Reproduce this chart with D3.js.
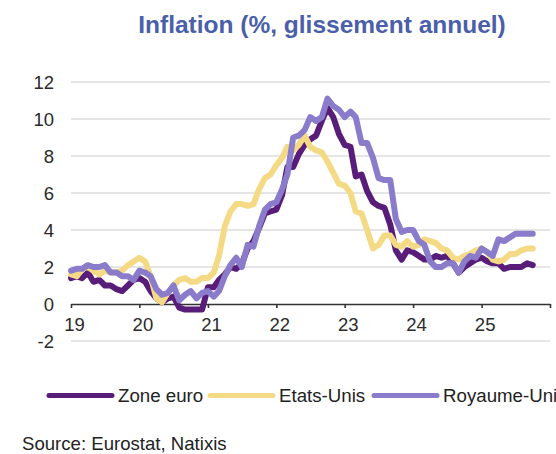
<!DOCTYPE html>
<html>
<head>
<meta charset="utf-8">
<script src="https://cdn.jsdelivr.net/npm/d3@7"></script>
<style>
  body { margin: 0; background: #fff; }
  svg { display: block; font-family: "Liberation Sans", Arial, sans-serif; }
</style>
</head>
<body>
<svg id="chart" width="556" height="454"></svg>
<script>
// Data: monthly y/y inflation, Jan 2019 -> Oct 2025
var startMonth = new Date(2019, 0, 1);
var zoneEuro = [
  1.4, 1.5, 1.4, 1.7, 1.2, 1.3, 1.0, 1.0, 0.8, 0.7, 1.0, 1.3,
  1.4, 1.2, 0.7, 0.3, 0.1, 0.3, 0.4, -0.2, -0.3, -0.3, -0.3, -0.3,
  0.9, 0.9, 1.3, 1.6, 2.0, 1.9, 2.2, 3.0, 3.4, 4.1, 4.9, 5.0,
  5.1, 5.9, 7.4, 7.4, 8.1, 8.6, 8.9, 9.1, 9.9, 10.6, 10.1, 9.2,
  8.6, 8.5, 6.9, 7.0, 6.1, 5.5, 5.3, 5.2, 4.3, 2.9, 2.4, 2.9,
  2.8, 2.6, 2.4, 2.4, 2.6, 2.5, 2.6, 2.2, 1.7, 2.0, 2.2, 2.4,
  2.5, 2.3, 2.2, 2.2, 1.9, 2.0, 2.0, 2.0, 2.2, 2.1
];
var etatsUnis = [
  1.6, 1.5, 1.9, 2.0, 1.8, 1.6, 1.8, 1.7, 1.7, 1.8, 2.1, 2.3,
  2.5, 2.3, 1.5, 0.3, 0.1, 0.6, 1.0, 1.3, 1.4, 1.2, 1.2, 1.4,
  1.4, 1.7, 2.6, 4.2, 5.0, 5.4, 5.4, 5.3, 5.4, 6.2, 6.8, 7.0,
  7.5, 7.9, 8.5, 8.3, 8.6, 9.1, 8.5, 8.3, 8.2, 7.7, 7.1, 6.5,
  6.4, 6.0, 5.0, 4.9, 4.0, 3.0, 3.2, 3.7, 3.7, 3.2, 3.1, 3.4,
  3.1, 3.2, 3.5, 3.4, 3.3, 3.0, 2.9, 2.5, 2.4, 2.6, 2.7, 2.9,
  3.0, 2.8, 2.4, 2.3, 2.4, 2.7, 2.7, 2.9, 3.0, 3.0
];
var royaumeUni = [
  1.8, 1.9, 1.9, 2.1, 2.0, 2.0, 2.1, 1.7, 1.7, 1.5, 1.5, 1.3,
  1.8, 1.7, 1.5, 0.8, 0.5, 0.6, 1.0, 0.2, 0.5, 0.7, 0.3, 0.6,
  0.7, 0.4, 0.7, 1.5, 2.1, 2.5, 2.0, 3.2, 3.1, 4.2, 5.1, 5.4,
  5.5, 6.2, 7.0, 9.0, 9.1, 9.4, 10.1, 9.9, 10.1, 11.1, 10.7, 10.5,
  10.1, 10.4, 10.1, 8.7, 8.7, 7.9, 6.8, 6.7, 6.7, 4.6, 3.9, 4.0,
  4.0, 3.4, 3.2, 2.3, 2.0, 2.0, 2.2, 2.2, 1.7, 2.3, 2.6, 2.5,
  3.0, 2.8, 2.6, 3.5, 3.4, 3.6, 3.8, 3.8, 3.8, 3.8
];
var seriesNames = ["Zone euro", "Etats-Unis", "Royaume-Uni"];
var seriesColors = ["#581d78", "#f5da86", "#8a7ccb"];
var yTicks = [-2, 0, 2, 4, 6, 8, 10, 12];
var yearTicks = [2019, 2020, 2021, 2022, 2023, 2024, 2025, 2026];

var svg = d3.select("#chart");
var months = d3.timeMonth.range(startMonth, d3.timeMonth.offset(startMonth, zoneEuro.length));

var x = d3.scaleTime()
  .domain([new Date(2019, 0, 1), new Date(2026, 0, 1)])
  .range([71, 550]);
var y = d3.scaleLinear()
  .domain([-2, 12])
  .range([341, 82]);

// Title
svg.append("text")
  .attr("x", 322).attr("y", 33)
  .attr("text-anchor", "middle")
  .attr("font-size", 24.5).attr("font-weight", "bold")
  .attr("fill", "#4a5faa")
  .text("Inflation (%, glissement annuel)");

// Gridlines
svg.append("g")
  .selectAll("line")
  .data(yTicks.filter(function(d) { return d != 0; }))
  .enter().append("line")
  .attr("x1", x.range()[0]).attr("x2", x.range()[1])
  .attr("y1", function(d) { return y(d); })
  .attr("y2", function(d) { return y(d); })
  .attr("stroke", "#dcdcdc").attr("stroke-width", 1.6);

// Y labels
svg.append("g")
  .selectAll("text")
  .data(yTicks)
  .enter().append("text")
  .attr("x", 54)
  .attr("y", function(d) { return y(d) + 6.5; })
  .attr("text-anchor", "end")
  .attr("font-size", 18.5).attr("fill", "#2a2a2a")
  .text(function(d) { return d; });

// X axis at 0
var xAxis = d3.axisBottom(x)
  .tickValues(yearTicks.map(function(yr) { return new Date(yr, 0, 1); }))
  .tickSize(4)
  .tickSizeOuter(0)
  .tickFormat(function(d) { return d.getFullYear() == 2026 ? "" : d3.timeFormat("%y")(d); });
var gx = svg.append("g")
  .attr("transform", "translate(0," + y(0) + ")")
  .call(xAxis);
gx.select(".domain").attr("stroke", "#333").attr("stroke-width", 1.6);
gx.selectAll(".tick line").attr("stroke", "#333").attr("stroke-width", 1.6);
gx.selectAll(".tick text")
  .attr("font-size", 18.5).attr("fill", "#2a2a2a")
  .attr("font-family", "Liberation Sans, Arial, sans-serif")
  .attr("y", 14).attr("dx", 3);

// Lines
var line = d3.line()
  .x(function(d, i) { return x(months[i]); })
  .y(function(d) { return y(d); });
var allSeries = [zoneEuro, etatsUnis, royaumeUni];
svg.append("g")
  .selectAll("path")
  .data(allSeries)
  .enter().append("path")
  .attr("d", function(d) { return line(d); })
  .attr("fill", "none")
  .attr("stroke", function(d, i) { return seriesColors[i]; })
  .attr("stroke-width", 6)
  .attr("stroke-linejoin", "round")
  .attr("stroke-linecap", "round");

// Legend
var legendX = [49, 210, 374];
var legend = svg.append("g")
  .selectAll("g")
  .data(seriesNames)
  .enter().append("g")
  .attr("transform", function(d, i) { return "translate(" + legendX[i] + ",395.5)"; });
legend.append("line")
  .attr("x1", 0).attr("x2", 63)
  .attr("stroke", function(d, i) { return seriesColors[i]; })
  .attr("stroke-width", 5)
  .attr("stroke-linecap", "round");
legend.append("text")
  .attr("x", 69).attr("y", 6.5)
  .attr("font-size", 18.7).attr("fill", "#222")
  .text(function(d) { return d; });

// Source
svg.append("text")
  .attr("x", 22).attr("y", 450)
  .attr("font-size", 18.6).attr("fill", "#222")
  .text("Source: Eurostat, Natixis");
</script>
</body>
</html>
